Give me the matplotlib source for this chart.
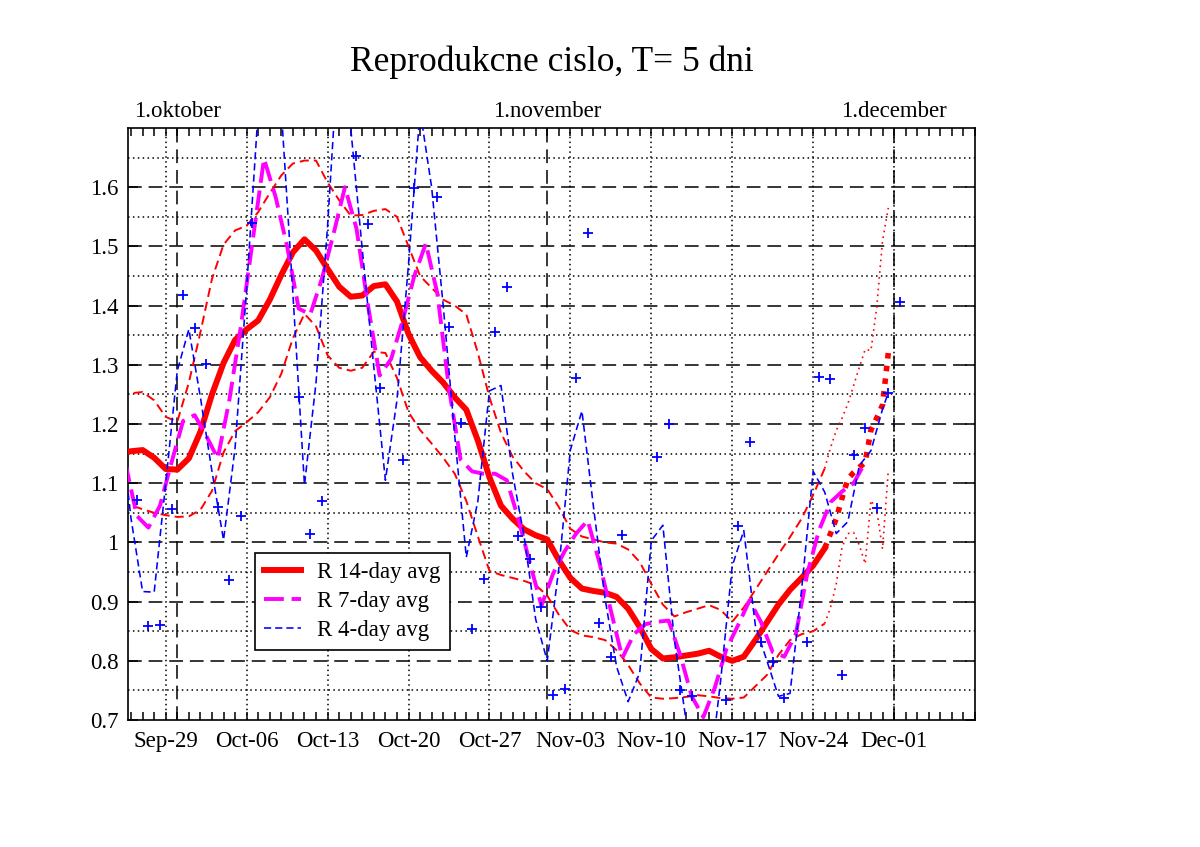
import numpy as np
import pandas as pd
import matplotlib
matplotlib.use("Agg")
import matplotlib.pyplot as plt
import matplotlib.dates as mdates
from matplotlib.ticker import FixedLocator, FuncFormatter

plt.rcParams['font.family'] = ['Liberation Serif', 'DejaVu Serif']

# R 14-day avg, daily from 2020-09-25
r14 = [1.15, 1.154, 1.156, 1.143, 1.124, 1.123, 1.142, 1.187, 1.25, 1.303,
       1.342, 1.36, 1.375, 1.41, 1.452, 1.49, 1.512, 1.493, 1.462, 1.432,
       1.415, 1.417, 1.433, 1.436, 1.407, 1.352, 1.313, 1.29, 1.27, 1.245,
       1.224, 1.172, 1.11, 1.062, 1.04, 1.022, 1.012, 1.005, 0.97, 0.94,
       0.922, 0.918, 0.915, 0.908, 0.888, 0.857, 0.82, 0.804, 0.806, 0.809,
       0.812, 0.817, 0.807, 0.80, 0.807, 0.835, 0.865, 0.895, 0.92, 0.94,
       0.961, 0.99]
# upper / lower red dashed curves, daily from 2020-09-25
r14_hi = [1.25, 1.252, 1.254, 1.24, 1.212, 1.204, 1.27, 1.355, 1.445, 1.503,
          1.527, 1.535, 1.558, 1.59, 1.62, 1.64, 1.645, 1.645, 1.608, 1.578,
          1.552, 1.553, 1.56, 1.563, 1.55, 1.50, 1.45, 1.43, 1.41, 1.40,
          1.385, 1.32, 1.245, 1.185, 1.145, 1.12, 1.10, 1.09, 1.06, 1.023,
          1.01, 1.005, 1.0, 0.998, 0.988, 0.967, 0.93, 0.895, 0.875, 0.882,
          0.888, 0.894, 0.886, 0.866, 0.89, 0.92, 0.95, 0.98, 1.009, 1.04,
          1.08, 1.125]
r14_lo = [1.065, 1.063, 1.056, 1.05, 1.046, 1.043, 1.044, 1.055, 1.087, 1.152,
          1.188, 1.203, 1.22, 1.245, 1.285, 1.345, 1.386, 1.365, 1.316, 1.295,
          1.29, 1.295, 1.322, 1.32, 1.278, 1.22, 1.19, 1.167, 1.143, 1.116,
          1.07, 1.01, 0.952, 0.945, 0.94, 0.935, 0.928, 0.91, 0.878, 0.852,
          0.843, 0.84, 0.835, 0.818, 0.793, 0.762, 0.738, 0.736, 0.737, 0.739,
          0.742, 0.74, 0.737, 0.736, 0.738, 0.757, 0.776, 0.81, 0.835, 0.845,
          0.85, 0.863]
# projections, every 12 h from 2020-11-25
proj_mid = [0.99, 1.015, 1.04, 1.075, 1.107, 1.118, 1.127, 1.135, 1.19, 1.21, 1.232, 1.32]
proj_hi = [1.125, 1.16, 1.189, 1.21, 1.234, 1.265, 1.296, 1.326, 1.324, 1.397, 1.509, 1.565]
proj_lo = [0.863, 0.89, 0.93, 0.992, 1.015, 1.017, 0.995, 0.964, 1.071, 1.054, 0.989, 1.121]

# R 7-day avg, daily from 2020-09-25 12:00
r7 = [1.135, 1.045, 1.025, 1.062, 1.135, 1.205, 1.215, 1.18, 1.142, 1.24,
      1.365, 1.507, 1.648, 1.584, 1.50, 1.395, 1.385, 1.445, 1.52, 1.60,
      1.53, 1.40, 1.282, 1.31, 1.375, 1.45, 1.505, 1.42, 1.26, 1.14,
      1.12, 1.116, 1.116, 1.105, 1.04, 0.965, 0.893, 0.947, 0.985, 1.015,
      1.037, 0.967, 0.885, 0.805, 0.845, 0.862, 0.866, 0.868, 0.81, 0.74,
      0.705, 0.755, 0.82, 0.86, 0.902, 0.865, 0.815, 0.807, 0.845, 0.948,
      1.02, 1.068, 1.086, 1.10, 1.135]

# R 4-day avg, daily from 2020-09-25, last point 2020-11-30 12:00
r4 = [1.215, 1.04, 0.917, 0.916, 1.10, 1.29, 1.36, 1.245, 1.12, 1.004,
      1.16, 1.43, 1.73, 1.85, 1.73, 1.42, 1.097, 1.27, 1.535, 1.85,
      1.70, 1.495, 1.296, 1.105, 1.24, 1.47, 1.73, 1.60, 1.40, 1.18,
      0.975, 1.07, 1.256, 1.265, 1.116, 1.01, 0.87, 0.80, 0.956, 1.156,
      1.222, 1.06, 0.905, 0.79, 0.731, 0.78, 1.003, 1.029, 0.835, 0.70,
      0.60, 0.60, 0.767, 0.96, 1.02, 0.86, 0.80, 0.74, 0.745, 0.92,
      1.12, 1.085, 1.015, 1.035, 1.13, 1.155, 1.225]
r4_last = 1.253

# daily R, from 2020-09-26 12:00
r1 = [1.072, 0.858, 0.861, 1.057, 1.418, 1.363, 1.301, 1.06, 0.937, 1.044,
      1.539, 1.95, 2.1, 1.9, 1.246, 1.015, 1.07, 1.9, 2.0, 1.652,
      1.537, 1.26, 0.90, 1.139, 1.599, 1.9, 1.583, 1.364, 1.201, 0.853,
      0.939, 1.355, 1.432, 1.01, 0.972, 0.891, 0.742, 0.753, 1.278, 1.522,
      0.864, 0.807, 1.013, 0.66, 0.66, 1.144, 1.20, 0.75, 0.74, 0.62,
      0.62, 0.734, 1.027, 1.169, 0.832, 0.798, 0.737, 0.66, 0.831, 1.279,
      1.276, 0.776, 1.147, 1.193, 1.058, 1.252, 1.406]

month_lines = ['2020-09-30', '2020-11-01', '2020-12-01']
month_labels = ['1.oktober', '1.november', '1.december']

d14 = pd.date_range('2020-09-25', periods=len(r14), freq='D')
dproj = pd.date_range('2020-11-25', periods=len(proj_mid), freq='12h')
d7 = pd.date_range('2020-09-25 12:00', periods=len(r7), freq='D')
d4 = pd.date_range('2020-09-25', periods=len(r4), freq='D')
d4 = d4.append(pd.DatetimeIndex([d4[-1] + pd.Timedelta(hours=12)]))
d1 = pd.date_range('2020-09-26 12:00', periods=len(r1), freq='D')

fig = plt.figure(figsize=(12, 8.47), dpi=100)
ax = fig.add_axes([0.1067, 0.1499, 0.7058, 0.699])

# grid
for v in np.arange(0.8, 1.65, 0.1):
    ax.axhline(v, color='k', lw=1.1, ls=(0, (9, 4.5)), zorder=0.5)
for v in np.arange(0.75, 1.7, 0.1):
    ax.axhline(v, color='k', lw=1.1, ls=(0, (1, 2.2)), zorder=0.5)
weeks = pd.date_range('2020-09-29', '2020-12-01', freq='7D')
for d in weeks:
    ax.axvline(d, color='k', lw=1.1, ls=(0, (1, 2.2)), zorder=0.5)
for d in month_lines:
    ax.axvline(pd.Timestamp(d), color='k', lw=1.1, ls=(0, (9, 4.5)), zorder=0.6)

ax.plot(d14, r14_hi, color='red', lw=1.4, ls=(0, (4.7, 2.6)), zorder=2)
ax.plot(d14, r14_lo, color='red', lw=1.4, ls=(0, (4.7, 2.6)), zorder=2)
ax.plot(dproj, proj_hi, color='red', lw=1.2, ls=(0, (1, 2.5)), zorder=2)
ax.plot(dproj, proj_lo, color='red', lw=1.2, ls=(0, (1, 2.5)), zorder=2)
l14, = ax.plot(d14, r14, color='red', lw=4.3, solid_joinstyle='round', zorder=3)
ax.plot(dproj, proj_mid, color='red', lw=4.0, ls=(0, (1, 1.3)),
        dash_capstyle='butt', zorder=3)
l7, = ax.plot(d7, r7, color='magenta', lw=2.8, ls=(0, (5.1, 2.0)), zorder=4)
l4, = ax.plot(d4, r4 + [r4_last], color='blue', lw=1.15, ls=(0, (4.5, 2.5)), zorder=5)
ax.plot(d1, r1, ls='none', marker='+', ms=6.5, mew=1.3, color='blue', zorder=5)

ax.set_xlim(pd.Timestamp('2020-09-25 17:45'), pd.Timestamp('2020-12-08'))
ax.set_ylim(0.7, 1.7)

ax.xaxis.set_major_locator(FixedLocator(mdates.date2num(weeks)))
ax.xaxis.set_major_formatter(mdates.DateFormatter('%b-%d'))
ax.xaxis.set_minor_locator(mdates.DayLocator())
ax.yaxis.set_major_locator(FixedLocator(np.round(np.arange(0.7, 1.65, 0.1), 2)))
ax.yaxis.set_major_formatter(FuncFormatter(lambda v, p: '%g' % round(v, 2)))
ax.tick_params(axis='x', which='both', direction='in', top=True, bottom=True,
               length=6, width=1.1, labelsize=16.5, pad=8)
ax.tick_params(axis='y', which='major', direction='in', left=True, right=True,
               length=7, width=1.1, labelsize=16.5, pad=7)
for s in ax.spines.values():
    s.set_linewidth(1.2)

for d, t in zip(month_lines, month_labels):
    ax.text(pd.Timestamp(d), 1.027, t, transform=ax.get_xaxis_transform(),
            ha='center', va='center', fontsize=16.5)

fig.text(0.4596, 0.926, 'Reprodukcne cislo, T= 5 dni', ha='center',
         va='center', fontsize=25.5)

leg = ax.legend([l14, l7, l4], ['R 14-day avg', 'R 7-day avg', 'R 4-day avg'],
                loc='lower left', bbox_to_anchor=(0.15, 0.118), borderaxespad=0,
                fancybox=False, framealpha=1, edgecolor='k', fontsize=16.5,
                handlelength=1.6, handletextpad=0.7, labelspacing=0.35,
                borderpad=0.4)
leg.get_frame().set_linewidth(1.2)
leg.set_zorder(10)

fig.savefig('out.png', dpi=100)
